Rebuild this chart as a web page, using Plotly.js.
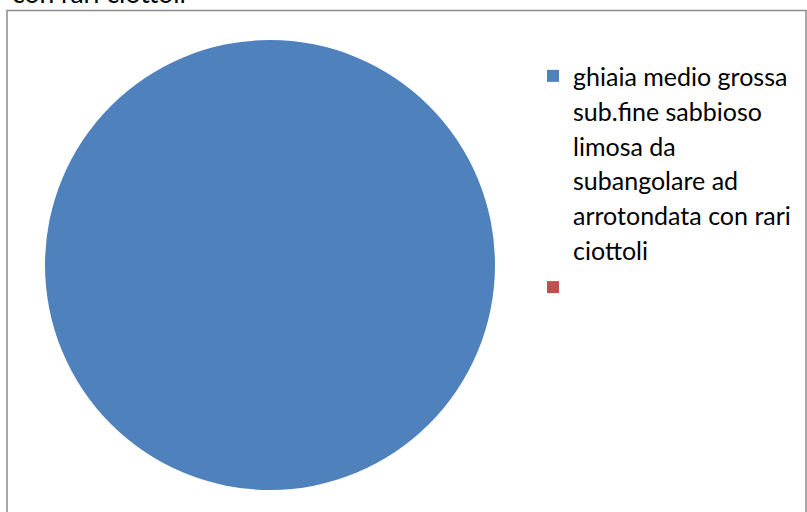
<!DOCTYPE html>
<html>
<head>
<meta charset="utf-8">
<script src="https://cdn.plot.ly/plotly-3.0.1.min.js"></script>
<style>html,body{margin:0;padding:0;background:#fff;}#chart{width:807px;height:512px;}</style>
</head>
<body>
<div id="chart"></div>
<script>
// Data
var categoryLines = [
  ["ghiaia medio grossa", "sub.fine sabbioso", "limosa da", "subangolare ad", "arrotondata con rari", "ciottoli"],
  [""]
];
var values = [100, 0];
var colors = ["#4F81BD", "#C0504D"];
var titleText = "con rari ciottoli";

var W = 807, H = 512;
var labels = categoryLines.map(function (lines) {
  return lines.map(function (l) { return '<span style="font-size:25px">' + (l || '&nbsp;') + '</span>'; }).join('<br>');
});

var trace = {
  type: 'pie',
  labels: labels,
  values: values,
  marker: { colors: colors, line: { width: 0 } },
  textinfo: 'none',
  hoverinfo: 'none',
  sort: false,
  direction: 'clockwise',
  showlegend: true,
  domain: { x: [45 / W, 495 / W], y: [1 - 490 / H, 1 - 40 / H] }
};

var layout = {
  width: W, height: H,
  margin: { l: 0, r: 0, t: 0, b: 0 },
  paper_bgcolor: '#fff',
  font: { family: 'Lato, "Open Sans", sans-serif', color: '#000' },
  showlegend: true,
  legend: {
    x: 533 / W, y: 1 - 52 / H, xanchor: 'left', yanchor: 'top',
    valign: 'top',
    font: { size: 26.7, color: '#000', family: 'Lato, sans-serif' },
    itemwidth: 30, bgcolor: 'rgba(0,0,0,0)'
  },
  shapes: [{
    type: 'rect', xref: 'paper', yref: 'paper', layer: 'below',
    x0: 7 / W, x1: 806 / W, y0: -0.05, y1: 1 - 10.5 / H,
    line: { color: '#8c8c8c', width: 1.5 }
  }],
  annotations: [{
    text: titleText, showarrow: false, xref: 'paper', yref: 'paper',
    x: 10 / W, y: 1 - 11.5 / H, xanchor: 'left', yanchor: 'bottom',
    font: { size: 26.5, color: '#000', family: 'Lato, sans-serif' }
  }]
};

Plotly.newPlot('chart', [trace], layout, { displayModeBar: false, staticPlot: true });
</script>
</body>
</html>
